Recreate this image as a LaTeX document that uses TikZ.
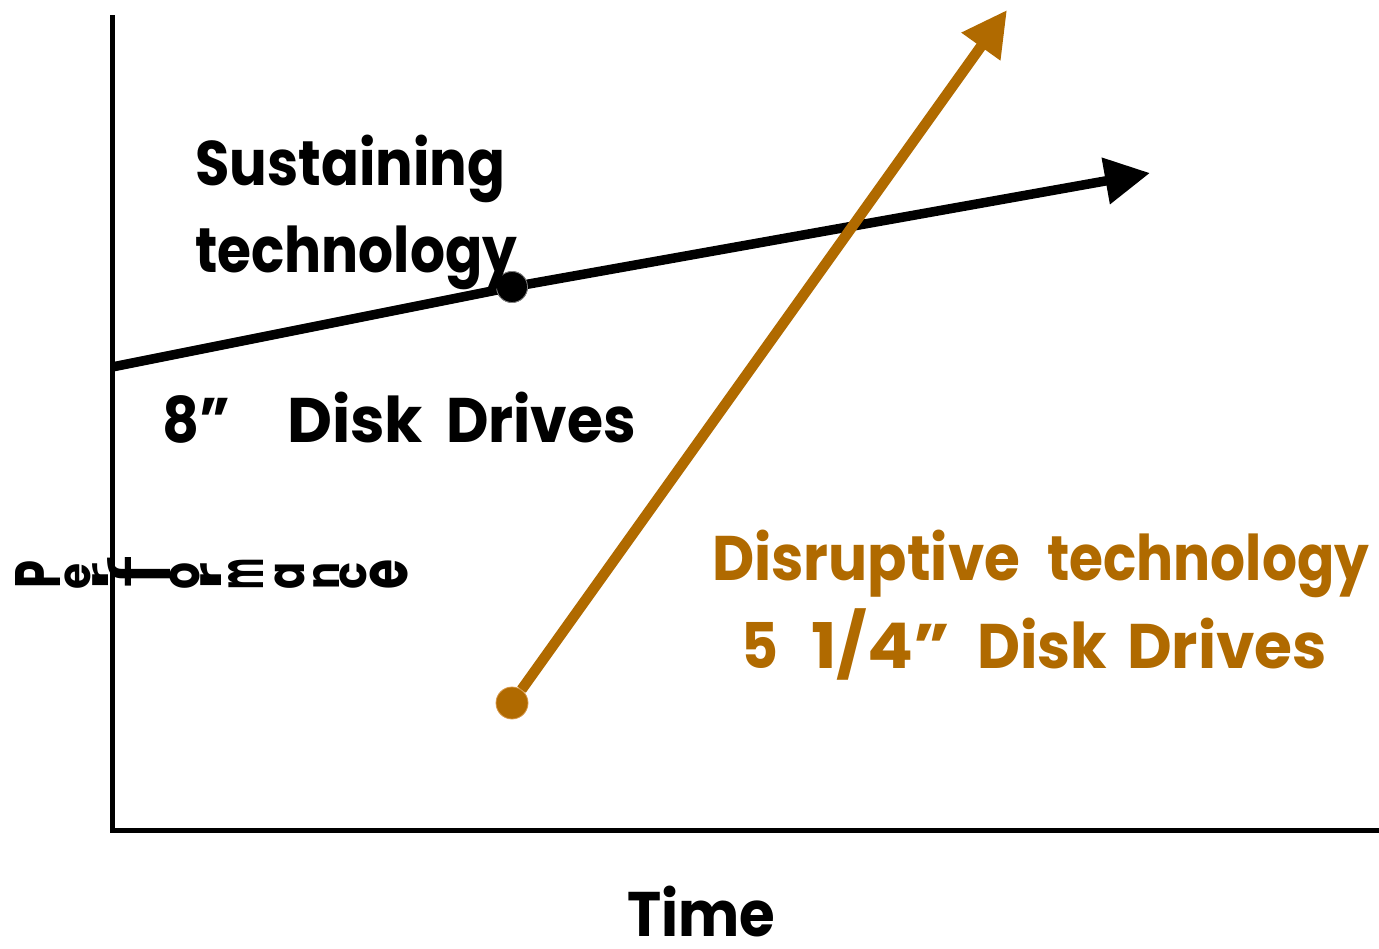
\documentclass[tikz,border=0pt]{standalone}
\usepackage{fontspec}
\usepackage{graphicx}
\setmainfont{Poppins}
\usetikzlibrary{arrows.meta}
\definecolor{disrupt}{RGB}{176,106,0}
\definecolor{disruptedge}{RGB}{214,150,70}
\tikzset{
  axisline/.style={line width=5pt},
  trend/.style={line width=9.5pt, -{Triangle[length=45pt,width=45pt]}},
  label/.style={font=\bfseries\fontsize{63}{70}\selectfont, inner sep=0pt, anchor=base west},
  glyph/.style={font=\bfseries\fontsize{60}{60}\selectfont, inner sep=0pt, anchor=south west},
  dot/.style={circle, inner sep=0pt, minimum size=31pt}
}
% set a word to a given width, keeping its height
\newcommand{\fitw}[2]{\resizebox{#1}{\height}{#2}}
% a letter turned a quarter turn and fitted to a box
\newcommand{\turned}[3]{\resizebox{#1}{#2}{\rotatebox{90}{#3}}}
\begin{document}
\begin{tikzpicture}[x=1pt,y=-1pt]
\useasboundingbox (0,0) rectangle (1379,948);

% axes
\coordinate (ytop) at (112,15);
\coordinate (origin) at (112,830);
\coordinate (xend) at (1379,830);
\draw[axisline] (ytop) -- (origin) -- (xend);

% sustaining trajectory
\coordinate (s0) at (112,367);
\coordinate (s1) at (1150,173);
\node[dot, fill=black, draw=gray, line width=0.8pt] (d1) at (512,287) {};
\draw[line width=9.5pt] (s0) -- (d1.center);
\draw[trend] (d1.center) -- (s1);
\node[dot, fill=black, draw=gray, line width=0.8pt] at (d1) {};

% disruptive trajectory
\node[dot, fill=disrupt, draw=disruptedge, line width=0.8pt, minimum size=32pt] (d2) at (512,703) {};
\coordinate (t1) at (1007,10);
\draw[trend, line width=10.5pt, color=disrupt] (d2) -- (t1);

% labels of the sustaining line
\node[label] (sus1) at (195,185) {\fitw{310pt}{Sustaining}};
\node[label] (sus2) at (195,272) {\fitw{322pt}{technology}};
\node[label] (eight) at (162,442) {\fitw{68pt}{8”}};
\node[label] (disk) at (287,442) {\fitw{136pt}{Disk}};
\node[label] (drives) at (446,442) {\fitw{190pt}{Drives}};

% labels of the disruptive line
\node[label, text=disrupt] (dis1) at (712,580) {\fitw{308pt}{Disruptive}};
\node[label, text=disrupt] (dis2) at (1047,580) {\fitw{322pt}{technology}};
\node[label, text=disrupt] (five) at (741,668) {\fitw{37pt}{5}};
\node[label, text=disrupt] (quarter) at (811,668) {\fitw{139pt}{1/4”}};
\node[label, text=disrupt] (disk2) at (977,668) {\fitw{130pt}{Disk}};
\node[label, text=disrupt] (drives2) at (1127,668) {\fitw{200pt}{Drives}};

% time axis caption
\node[label, anchor=base west] (time) at (627,936) {\fitw{148pt}{Time}};

% performance axis caption, letters turned a quarter turn
\node[glyph] (pP)  at (15,589)  {\turned{45pt}{28pt}{P}};
\node[glyph] (pe1) at (65,590)  {\turned{26pt}{26pt}{e}};
\node[glyph] (pr1) at (92,590)  {\turned{16pt}{27pt}{r}};
\node[glyph, font=\fontsize{60}{60}\selectfont] (pf) at (107,589) {\turned{63pt}{34pt}{f}};
\node[glyph] (po)  at (170,590) {\turned{30pt}{27pt}{o}};
\node[glyph] (pr2) at (200,590) {\turned{21pt}{27pt}{r}};
\node[glyph] (pm)  at (228,590) {\turned{35pt}{31pt}{m}};
\node[glyph] (pa)  at (275,590) {\turned{30pt}{27pt}{a}};
\node[glyph] (pn)  at (313,590) {\turned{26pt}{27pt}{n}};
\node[glyph] (pc)  at (340,590) {\turned{27pt}{27pt}{c}};
\node[glyph] (pe2) at (370,590) {\turned{38pt}{30pt}{e}};
\end{tikzpicture}
\end{document}
